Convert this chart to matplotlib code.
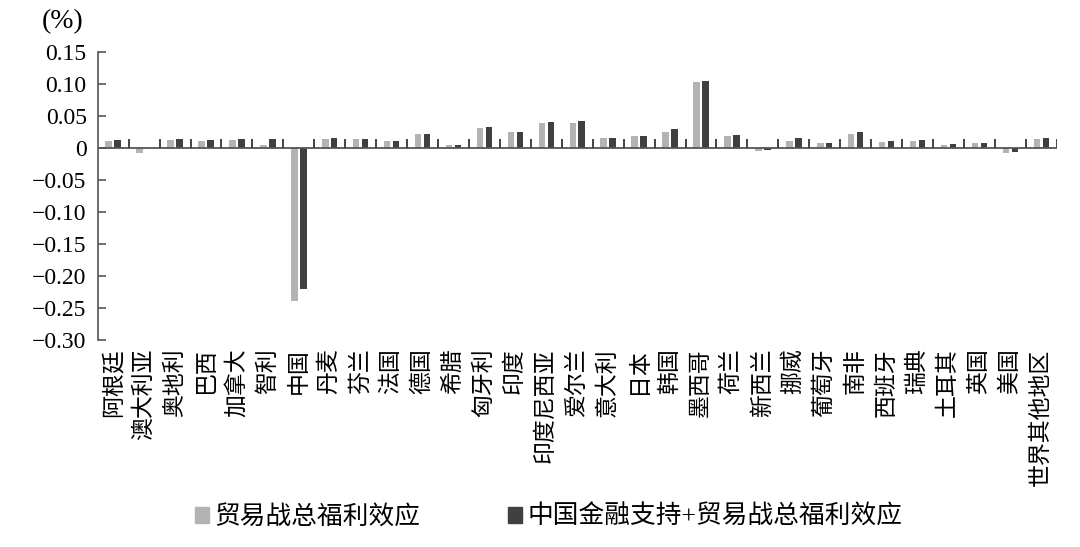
import numpy as np
import matplotlib
matplotlib.use('Agg')
import matplotlib.pyplot as plt
from matplotlib.patches import Patch

plt.rcParams['font.family'] = ['Liberation Serif', 'Noto Sans CJK SC']
plt.rcParams['axes.unicode_minus'] = True

# countries / regions
countries = ['阿根廷', '澳大利亚', '奥地利', '巴西', '加拿大', '智利', '中国', '丹麦', '芬兰',
             '法国', '德国', '希腊', '匈牙利', '印度', '印度尼西亚', '爱尔兰', '意大利', '日本',
             '韩国', '墨西哥', '荷兰', '新西兰', '挪威', '葡萄牙', '南非', '西班牙', '瑞典',
             '土耳其', '英国', '美国', '世界其他地区']

# trade war total welfare effect (%)
trade_war = [0.010, -0.008, 0.0125, 0.010, 0.012, 0.005, -0.239, 0.014, 0.013,
             0.010, 0.022, 0.004, 0.031, 0.025, 0.038, 0.039, 0.016, 0.018,
             0.024, 0.102, 0.019, -0.005, 0.011, 0.008, 0.022, 0.009, 0.011,
             0.005, 0.007, -0.008, 0.013]

# China financial support + trade war total welfare effect (%)
with_support = [0.012, -0.001, 0.013, 0.012, 0.014, 0.013, -0.221, 0.016, 0.0145,
                0.010, 0.022, 0.004, 0.032, 0.025, 0.040, 0.042, 0.016, 0.018,
                0.029, 0.104, 0.020, -0.004, 0.015, 0.008, 0.025, 0.010, 0.012,
                0.006, 0.008, -0.007, 0.016]

series_names = ['贸易战总福利效应', '中国金融支持+贸易战总福利效应']
light = '#b3b3b3'
dark = '#404040'
axis_col = '#555555'

fig = plt.figure(figsize=(10.8, 5.47), dpi=100)
ax = fig.add_axes([0.0905, 0.3784, 0.888, 0.5271])

x = np.arange(len(countries))
w = 0.21
ax.bar(x - 0.145, trade_war, width=w, color=light)
ax.bar(x + 0.145, with_support, width=w, color=dark)

# zero line with small upward boundary ticks
ax.axhline(0, color=axis_col, lw=1.3, zorder=3)
ax.vlines(x[1:] - 0.5, 0, 0.013, color='#444444', lw=1.4, zorder=3)
ax.vlines(x[-1] + 0.5, 0, 0.013, color='#444444', lw=1.4, zorder=3)

ax.set_xlim(-0.5, len(countries) - 0.5)
ax.set_ylim(-0.30, 0.15)
yt = np.arange(-0.30, 0.151, 0.05)
ax.set_yticks(yt)
ax.set_yticklabels(['0' if abs(v) < 1e-9 else f'{v:.2f}'.replace('-', '\u2212') for v in yt],
                   fontsize=17)
ax.tick_params(axis='y', direction='in', length=6, width=1.2, color=axis_col, pad=8)

ax.set_xticks(x)
ax.set_xticklabels(countries, rotation=90, fontsize=16.5, va='top', ha='center')
ax.tick_params(axis='x', length=0, pad=6)

for s in ['top', 'right', 'bottom']:
    ax.spines[s].set_visible(False)
ax.spines['left'].set_color(axis_col)
ax.spines['left'].set_linewidth(1.2)

ax.text(-0.037, 1.103, '(%)', transform=ax.transAxes, fontsize=20, ha='center', va='center')

handles = [Patch(color=light), Patch(color=dark)]
fig.legend(handles, series_names, loc='center', bbox_to_anchor=(0.508, 0.055), ncol=2,
           frameon=False, fontsize=18.5, handlelength=0.55, handleheight=0.55,
           handletextpad=0.2, columnspacing=3.4)

fig.savefig('out.png', dpi=100)
